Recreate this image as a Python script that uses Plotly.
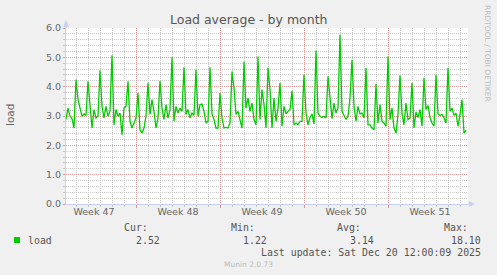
import pandas as pd
import plotly.graph_objects as go

# ---------------- data ----------------
start_time = "2025-11-17 04:00"
step = "4h"
load_values = [
    2.88, 3.27, 2.99, 2.91, 2.59, 4.24, 3.56, 3.27, 2.99, 3.07, 3.02, 4.18, 3.27, 2.59, 3.22, 2.93, 2.99,
    4.55, 3.33, 2.93, 3.33, 2.99, 3.16, 5.07, 2.70, 3.22, 2.99, 3.10, 2.36, 3.27, 3.33, 4.18, 2.82, 2.59,
    2.76, 2.93, 3.78, 2.53, 2.42, 2.59, 2.99, 4.13, 3.05, 3.56, 3.16, 2.59, 2.93, 4.20, 3.27, 2.88, 3.39,
    2.93, 3.22, 5.00, 2.82, 3.33, 3.10, 3.27, 3.16, 4.66, 3.05, 3.22, 2.93, 3.10, 3.02, 4.58, 2.99, 3.39,
    3.41, 3.16, 2.76, 2.82, 4.66, 3.07, 2.88, 2.59, 2.59, 3.78, 2.93, 2.59, 2.61, 2.59, 2.76, 4.52, 3.95,
    3.05, 3.16, 2.82, 2.59, 4.86, 3.27, 3.61, 3.16, 3.44, 2.88, 2.70, 5.03, 2.88, 3.90, 3.39, 2.59, 4.64,
    3.90, 2.59, 3.61, 2.82, 3.27, 4.13, 2.65, 3.33, 3.07, 3.16, 3.22, 3.86, 2.70, 2.76, 2.70, 2.82, 2.82,
    4.41, 3.10, 2.70, 2.95, 3.07, 2.73, 5.23, 3.10, 2.99, 2.95, 2.99, 2.93, 4.35, 3.61, 2.91, 3.44, 3.10,
    3.27, 5.77, 3.16, 2.99, 2.88, 2.99, 3.61, 4.92, 3.33, 2.82, 3.33, 3.07, 3.10, 2.93, 4.64, 2.70, 2.70,
    2.59, 2.53, 4.09, 2.76, 3.39, 2.82, 2.76, 2.65, 5.03, 2.88, 3.27, 2.59, 2.42, 3.05, 4.39, 3.10, 2.70,
    3.44, 2.88, 2.93, 4.13, 2.59, 3.14, 2.95, 3.22, 2.65, 4.30, 3.22, 3.36, 2.95, 2.76, 2.65, 4.41, 3.07,
    3.02, 3.05, 2.93, 2.76, 4.64, 3.16, 3.27, 3.02, 3.10, 2.65, 3.05, 3.56, 2.42, 2.52,
]
times = pd.date_range(start=start_time, periods=len(load_values), freq=step)

x_range = ["2025-11-17 04:00", "2025-12-20 16:00"]
week_starts = ["2025-11-23", "2025-11-30", "2025-12-07", "2025-12-14"]
week_centers = ["2025-11-19 12:00", "2025-11-26 12:00", "2025-12-03 12:00",
                "2025-12-10 12:00", "2025-12-17 12:00"]
week_labels = ["Week 47", "Week 48", "Week 49", "Week 50", "Week 51"]
y_ticks = [0, 1, 2, 3, 4, 5, 6]
y_labels = ["0.0", "1.0", "2.0", "3.0", "4.0", "5.0", "6.0"]

legend_heads = ["Cur:", "Min:", "Avg:", "Max:"]
legend_vals = ["2.52", "1.22", "3.14", "18.10"]
series_name = "load"
last_update = "Last update: Sat Dec 20 12:00:09 2025"

# ---------------- layout helpers ----------------
W, H = 497, 275
L, R, T, B = 66, 468, 28, 204


def px(x):
    return (x - L) / (R - L)


def py(y):
    return (B - y) / (B - T)


GREEN = "#00CC00"
AXIS = "#C9D0F5"
FONT = "#666666"
MGRID = "rgb(225,150,150)"
GRID = "rgb(200,200,200)"
DOT = "1px,1px"

fig = go.Figure()
fig.add_trace(go.Scatter(x=times, y=load_values, mode="lines",
                         line=dict(color=GREEN, width=1.3),
                         hoverinfo="skip", showlegend=False))
# helper trace for the label axis
fig.add_trace(go.Scatter(x=week_centers, y=[None] * len(week_centers), xaxis="x2",
                         mode="lines", hoverinfo="skip", showlegend=False))

fig.update_layout(
    width=W, height=H,
    margin=dict(l=L, r=W - R, t=T, b=H - B, pad=0),
    paper_bgcolor="#F0F0F0",
    plot_bgcolor="#FFFFFF",
    font=dict(family="DejaVu Sans", color=FONT, size=9.5),
    xaxis=dict(
        type="date", range=x_range,
        tickmode="array", tickvals=week_starts, showticklabels=False,
        showgrid=True, gridcolor=MGRID, griddash=DOT, gridwidth=1,
        ticks="outside", ticklen=3, tickcolor=MGRID,
        minor=dict(tick0="2025-11-16", dtick=86400000, showgrid=True,
                   gridcolor=GRID, griddash=DOT, gridwidth=1,
                   ticks="outside", ticklen=2, tickcolor=GRID),
        showline=True, linecolor=AXIS, linewidth=1,
        zeroline=False, fixedrange=True,
    ),
    xaxis2=dict(
        type="date", range=x_range, overlaying="x", side="bottom", anchor="y",
        tickmode="array", tickvals=week_centers, ticktext=week_labels,
        showgrid=False, ticks="", showline=False, zeroline=False,
        tickfont=dict(size=9.5, color=FONT, family="DejaVu Sans"),
        fixedrange=True,
    ),
    yaxis=dict(
        range=[0, 6], tickmode="array", tickvals=y_ticks, ticktext=y_labels,
        showgrid=True, gridcolor=MGRID, griddash=DOT, gridwidth=1,
        ticks="outside", ticklen=2, tickcolor=MGRID,
        minor=dict(dtick=0.2, showgrid=True, gridcolor=GRID, griddash=DOT,
                   gridwidth=1, ticks="outside", ticklen=2, tickcolor=GRID),
        showline=True, linecolor=AXIS, linewidth=1, zeroline=False,
        tickfont=dict(size=9.5, color=FONT), fixedrange=True,
    ),
    showlegend=False,
)

ann = []
ann.append(dict(text="Load average - by month", x=px(248), y=py(19), xref="paper", yref="paper",
                xanchor="center", yanchor="middle", showarrow=False,
                font=dict(size=12.5, color="#555555", family="DejaVu Sans")))
ann.append(dict(text="load", x=px(10), y=py(115), xref="paper", yref="paper", textangle=-90,
                xanchor="center", yanchor="middle", showarrow=False,
                font=dict(size=10.5, color=FONT, family="DejaVu Sans")))
ann.append(dict(text="RRDTOOL / TOBI OETIKER", x=px(488), y=py(53), xref="paper", yref="paper",
                textangle=90, xanchor="center", yanchor="middle", showarrow=False,
                font=dict(size=7.5, color="#BBBBBB", family="DejaVu Sans")))

MONO = "DejaVu Sans Mono"
head_right = [150, 257, 363, 470]
val_right = [162, 269, 376, 483]
for t, xr in zip(legend_heads, head_right):
    ann.append(dict(text=t, x=px(xr), y=py(228), xref="paper", yref="paper",
                    xanchor="right", yanchor="middle", showarrow=False,
                    font=dict(size=9.9, color="#555555", family=MONO)))
for t, xr in zip(legend_vals, val_right):
    ann.append(dict(text=t, x=px(xr), y=py(240), xref="paper", yref="paper",
                    xanchor="right", yanchor="middle", showarrow=False,
                    font=dict(size=9.9, color="#555555", family=MONO)))
ann.append(dict(text=series_name, x=px(25.5), y=py(240), xref="paper", yref="paper",
                xanchor="left", yanchor="middle", showarrow=False,
                font=dict(size=9.9, color="#555555", family=MONO)))
ann.append(dict(text=last_update, x=px(483), y=py(252), xref="paper", yref="paper",
                xanchor="right", yanchor="middle", showarrow=False,
                font=dict(size=9.9, color="#555555", family=MONO)))
ann.append(dict(text="Munin 2.0.73", x=px(248), y=py(264), xref="paper", yref="paper",
                xanchor="center", yanchor="middle", showarrow=False,
                font=dict(size=7.5, color="#BBBBBB", family="DejaVu Sans")))
fig.update_layout(annotations=ann)

shapes = []
# legend swatch
shapes.append(dict(type="rect", xref="paper", yref="paper",
                   x0=px(14), x1=px(20), y0=py(243), y1=py(237),
                   fillcolor=GREEN, line=dict(width=0)))
# axis arrows
shapes.append(dict(type="line", xref="paper", yref="paper",
                   x0=px(66), x1=px(66), y0=py(28), y1=py(24),
                   line=dict(color=AXIS, width=1)))
shapes.append(dict(type="path", xref="paper", yref="paper",
                   path=f"M {px(63)} {py(27)} L {px(69)} {py(27)} L {px(66)} {py(20)} Z",
                   fillcolor=AXIS, line=dict(width=0)))
shapes.append(dict(type="line", xref="paper", yref="paper",
                   x0=px(468), x1=px(470), y0=py(204), y1=py(204),
                   line=dict(color=AXIS, width=1)))
shapes.append(dict(type="path", xref="paper", yref="paper",
                   path=f"M {px(469)} {py(201)} L {px(469)} {py(207)} L {px(475)} {py(204)} Z",
                   fillcolor=AXIS, line=dict(width=0)))
fig.update_layout(shapes=shapes)

fig.write_html("out.html", config={"displayModeBar": False})
